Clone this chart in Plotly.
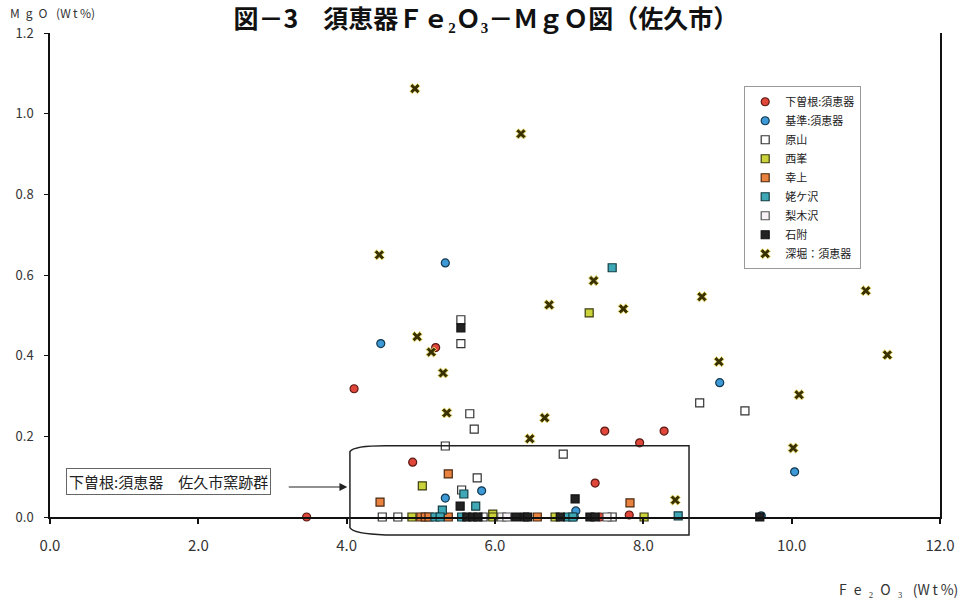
import plotly.graph_objects as go

FONT = "Noto Sans CJK JP"

# ---- data (Fe2O3 wt%, MgO wt%) ----
shimosone_x = [4.10, 5.20, 4.89, 7.48, 8.28, 7.95, 7.35, 7.81, 3.46, 7.42]
shimosone_y = [0.318, 0.420, 0.136, 0.213, 0.213, 0.184, 0.084, 0.005, 0.0, 0.0]

kijun_x = [5.33, 4.46, 9.03, 10.04, 5.82, 5.33, 7.09, 9.59, 7.07]
kijun_y = [0.630, 0.430, 0.333, 0.112, 0.065, 0.047, 0.015, 0.003, 0.0]

harayama_x = [5.54, 5.54, 5.66, 5.72, 5.33, 6.92, 8.76, 9.37, 5.76, 5.55, 4.48, 4.69, 5.84, 7.58]
harayama_y = [0.489, 0.430, 0.256, 0.218, 0.176, 0.156, 0.283, 0.263, 0.097, 0.067, 0.0, 0.0, 0.0, 0.0]

nishimine_x = [7.27, 5.02, 5.97, 4.88, 5.97, 6.81, 8.01]
nishimine_y = [0.506, 0.077, 0.007, 0.0, 0.0, 0.0, 0.0]

kouue_x = [5.37, 4.45, 7.82, 5.00, 5.06, 5.11, 5.37, 6.57]
kouue_y = [0.107, 0.037, 0.035, 0.0, 0.0, 0.0, 0.0, 0.0]

ubagasawa_x = [7.58, 5.58, 5.74, 5.29, 8.47, 5.19, 5.26, 5.55, 6.98, 7.05]
ubagasawa_y = [0.618, 0.057, 0.027, 0.017, 0.003, 0.0, 0.0, 0.0, 0.0, 0.0]

nashikizawa_x = [6.09, 6.16, 7.51]
nashikizawa_y = [0.0, 0.0, 0.0]

ishizuku_x = [5.54, 5.53, 7.08, 5.62, 5.70, 5.77, 6.28, 6.40, 6.44, 6.88, 7.28, 7.35, 9.57]
ishizuku_y = [0.469, 0.027, 0.045, 0.0, 0.0, 0.0, 0.0, 0.0, 0.0, 0.0, 0.0, 0.0, 0.0]

fukabori_x = [4.92, 6.35, 4.44, 7.33, 6.73, 7.73, 8.79, 11.00, 11.29, 9.02, 10.10, 10.02,
              4.95, 5.14, 5.30, 5.35, 6.67, 6.47, 8.43]
fukabori_y = [1.062, 0.950, 0.650, 0.586, 0.526, 0.516, 0.546, 0.561, 0.402, 0.385, 0.303, 0.171,
              0.447, 0.409, 0.357, 0.258, 0.246, 0.194, 0.042]

x_ticks = [0, 2, 4, 6, 8, 10, 12]
x_tick_labels = ["0.0", "2.0", "4.0", "6.0", "8.0", "10.0", "12.0"]
y_ticks = [0, 0.2, 0.4, 0.6, 0.8, 1.0, 1.2]
y_tick_labels = ["0.0", "0.2", "0.4", "0.6", "0.8", "1.0", "1.2"]

series = [
    ("下曽根:須恵器", shimosone_x, shimosone_y, "circle", "#e0473a", "#5a1a14"),
    ("基準:須恵器", kijun_x, kijun_y, "circle", "#3d9ad6", "#13384f"),
    ("原山", harayama_x, harayama_y, "square", "#ffffff", "#333333"),
    ("西峯", nishimine_x, nishimine_y, "square", "#cbd33a", "#3c3c10"),
    ("幸上", kouue_x, kouue_y, "square", "#e8823e", "#4a2810"),
    ("姥ケ沢", ubagasawa_x, ubagasawa_y, "square", "#3fa8b6", "#123c42"),
    ("梨木沢", nashikizawa_x, nashikizawa_y, "square", "#f7f0f4", "#555555"),
    ("石附", ishizuku_x, ishizuku_y, "square", "#222222", "#111111"),
]

fig = go.Figure()
for name, xs, ys, sym, fill, edge in series:
    fig.add_trace(go.Scatter(
        x=xs, y=ys, mode="markers", name=name, cliponaxis=False,
        marker=dict(symbol=sym, size=8, color=fill, line=dict(color=edge, width=1.2)),
    ))
fig.add_trace(go.Scatter(
    x=fukabori_x, y=fukabori_y, mode="markers", name="深堀：須恵器", cliponaxis=False,
    marker=dict(symbol="x", size=9, color="#3a3100", line=dict(color="#eee27a", width=1)),
))

# plot area in pixels: left 50, right 940, top 33, bottom 517
fig.update_layout(
    width=966, height=604,
    margin=dict(l=50, r=26, t=33, b=87),
    paper_bgcolor="white", plot_bgcolor="white",
    font=dict(family=FONT, color="#222222"),
    title=dict(
        text="図－3　須恵器Ｆｅ₂Ｏ₃－ＭｇＯ図（佐久市）",
        x=0.503, xanchor="center", y=0.968, yanchor="middle",
        font=dict(family=FONT, size=25, color="#111111", weight="bold"),
    ),
    xaxis=dict(
        range=[0, 12], tickvals=x_ticks, ticktext=x_tick_labels,
        showgrid=False, zeroline=False, showline=True, linecolor="#111111", linewidth=2,
        mirror=False, ticks="outside", ticklen=5, tickcolor="#111111", tickwidth=1.5,
        ticklabelstandoff=9, tickfont=dict(family=FONT, size=15, color="#333333"),
    ),
    yaxis=dict(
        range=[0, 1.2], tickvals=y_ticks, ticktext=y_tick_labels,
        showgrid=False, zeroline=False, showline=True, linecolor="#111111", linewidth=1.5,
        mirror=True, ticks="outside", ticklen=4, tickcolor="#111111", tickwidth=1,
        ticklabelstandoff=8, tickfont=dict(family=FONT, size=13, color="#333333"),
    ),
    legend=dict(
        x=0.78, y=0.89, xanchor="left", yanchor="top",
        bgcolor="white", bordercolor="#999999", borderwidth=1,
        font=dict(family=FONT, size=11, color="#222222"),
        itemwidth=30, tracegroupgap=0,
    ),
    showlegend=True,
)

# axis titles
fig.add_annotation(
    text="M\u2002g\u2002O\u2002 (W\u2009t\u2009%)", xref="paper", yref="paper", x=-0.046, y=1.043,
    xanchor="left", yanchor="middle", showarrow=False, borderpad=0,
    font=dict(family=FONT, size=12, color="#333333"),
)
fig.add_annotation(
    text="F\u2002e\u2002₂\u2002O\u2002₃\u2002 (W\u2009t\u2009%)", xref="paper", yref="paper", x=1.022, y=-0.148,
    xanchor="right", yanchor="middle", showarrow=False,
    font=dict(family=FONT, size=14, color="#333333"),
)

# label box and arrow
fig.add_annotation(
    text="下曽根:須恵器　佐久市窯跡群", xref="paper", yref="paper", x=0.133, y=0.074,
    xanchor="center", yanchor="middle", showarrow=False,
    bordercolor="#666666", borderwidth=1, borderpad=2, bgcolor="white",
    font=dict(family=FONT, size=15, color="#222222"),
)
fig.add_annotation(
    text="", xref="paper", yref="paper", x=0.334, y=0.062,
    ax=-60, ay=0, showarrow=True, arrowhead=2, arrowsize=1.3, arrowwidth=1.2,
    arrowcolor="#222222",
)

# enclosing outline around the Shimosone kiln cluster (paper coords)
box_x0, box_x1 = 0.337, 0.718
box_y0, box_y1 = -0.037, 0.147
fig.add_shape(
    type="path", xref="paper", yref="paper",
    path=(f"M {box_x0},{box_y1 - 0.012} Q {box_x0 + 0.004},{box_y1} {box_x0 + 0.04},{box_y1} "
          f"L {box_x1},{box_y1} L {box_x1},{box_y0} L {box_x0 + 0.04},{box_y0} "
          f"Q {box_x0 + 0.004},{box_y0 + 0.002} {box_x0},{box_y0 + 0.015} Z"),
    line=dict(color="#222222", width=1.5), fillcolor="rgba(0,0,0,0)", layer="above",
)

fig.write_html("out.html", config={"displayModeBar": False},
               post_script="document.body.style.margin='0';")
